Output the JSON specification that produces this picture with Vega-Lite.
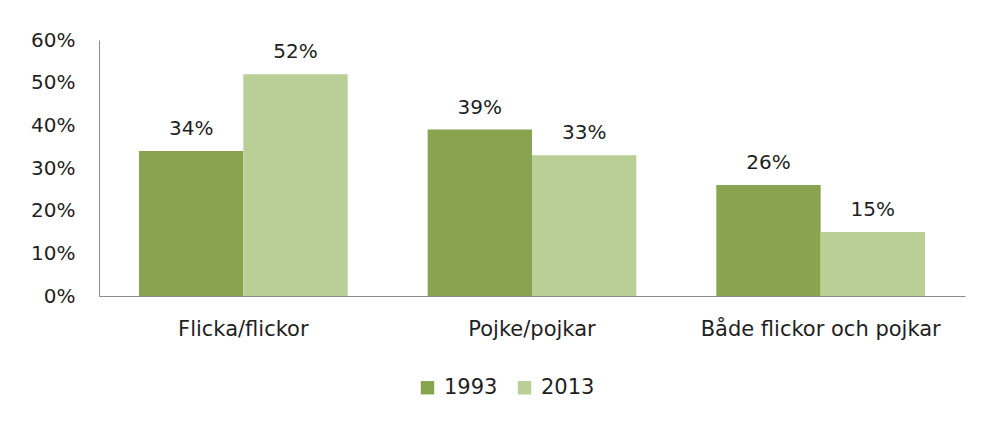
{
  "$schema": "https://vega.github.io/schema/vega-lite/v6.json",
  "width": 866,
  "height": 256,
  "autosize": "none",
  "padding": {"left": 99, "top": 40, "right": 16, "bottom": 125},
  "background": "white",
  "config": {"view": {"stroke": null}, "font": "DejaVu Sans"},
  "data": {"values": [
    {"cat": "Flicka/flickor", "year": "1993", "value": 0.34},
    {"cat": "Flicka/flickor", "year": "2013", "value": 0.52},
    {"cat": "Pojke/pojkar", "year": "1993", "value": 0.39},
    {"cat": "Pojke/pojkar", "year": "2013", "value": 0.33},
    {"cat": "Både flickor och pojkar", "year": "1993", "value": 0.26},
    {"cat": "Både flickor och pojkar", "year": "2013", "value": 0.15}
  ]},
  "encoding": {
    "x": {
      "field": "cat", "type": "nominal",
      "sort": ["Flicka/flickor", "Pojke/pojkar", "Både flickor och pojkar"],
      "scale": {"paddingInner": 0.277, "paddingOuter": 0.1385},
      "axis": {"title": null, "labelAngle": 0, "ticks": false, "labelPadding": 22, "labelFontSize": 21, "labelLimit": 0, "labelColor": "#1f1f1f", "domainColor": "#8c8c8c", "labelFont": "DejaVu Sans"}
    },
    "xOffset": {"field": "year", "type": "nominal"},
    "y": {
      "field": "value", "type": "quantitative",
      "scale": {"domain": [0, 0.6], "nice": false},
      "axis": {"title": null, "format": ".0%", "values": [0, 0.1, 0.2, 0.3, 0.4, 0.5, 0.6], "grid": false, "ticks": false, "labelPadding": 24, "labelFontSize": 20, "labelColor": "#1f1f1f", "domainColor": "#8c8c8c", "labelFont": "DejaVu Sans"}
    }
  },
  "layer": [
    {
      "mark": {"type": "bar"},
      "encoding": {
        "color": {
          "field": "year", "type": "nominal",
          "scale": {"domain": ["1993", "2013"], "range": ["#88A44E", "#B9CF96"]},
          "legend": {"title": null, "orient": "none", "direction": "horizontal", "legendX": 318, "legendY": 337, "symbolType": "square", "symbolSize": 180, "symbolOpacity": 1, "labelFontSize": 21, "labelColor": "#1f1f1f", "labelFont": "DejaVu Sans", "columnPadding": 16, "labelOffset": 6}
        }
      }
    },
    {
      "mark": {"type": "text", "baseline": "bottom", "dy": -12, "fontSize": 20, "color": "#1f1f1f", "font": "DejaVu Sans"},
      "encoding": {
        "text": {"field": "value", "type": "quantitative", "format": ".0%"}
      }
    }
  ]
}
